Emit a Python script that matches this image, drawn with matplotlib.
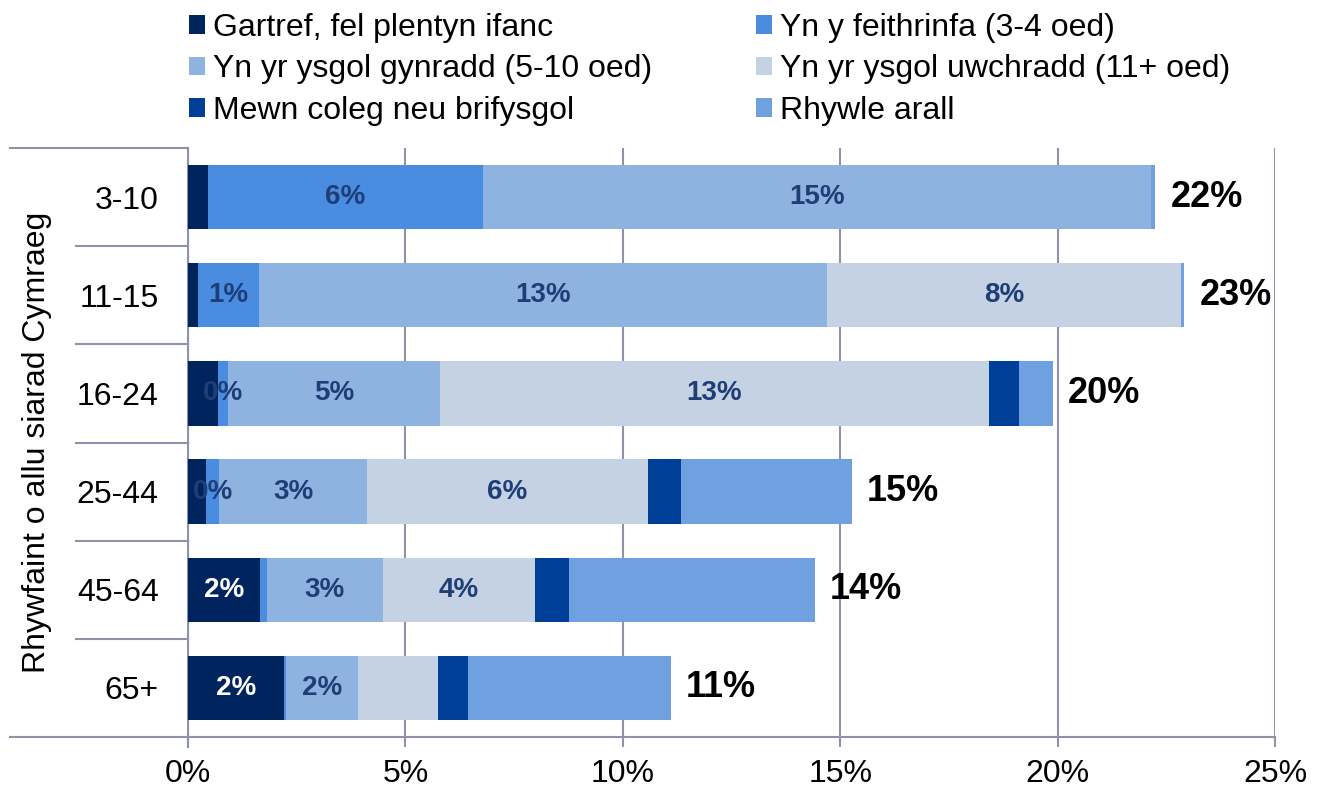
import matplotlib
matplotlib.use("Agg")
import matplotlib.pyplot as plt
from matplotlib.lines import Line2D
import numpy as np

plt.rcParams['font.family'] = ['Liberation Sans', 'DejaVu Sans']

categories = ["3-10", "11-15", "16-24", "25-44", "45-64", "65+"]
series_names = ["Gartref, fel plentyn ifanc", "Yn y feithrinfa (3-4 oed)",
                "Yn yr ysgol gynradd (5-10 oed)", "Yn yr ysgol uwchradd (11+ oed)",
                "Mewn coleg neu brifysgol", "Rhywle arall"]
gartref    = [0.46, 0.23, 0.68, 0.41, 1.66, 2.21]
feithrinfa = [6.32, 1.40, 0.24, 0.31, 0.15, 0.05]
gynradd    = [15.37, 13.07, 4.88, 3.40, 2.67, 1.64]
uwchradd   = [0.00, 8.14, 12.62, 6.46, 3.51, 1.86]
coleg      = [0.00, 0.00, 0.69, 0.76, 0.78, 0.67]
rhywle     = [0.10, 0.07, 0.78, 3.93, 5.64, 4.67]
# which segment labels are shown (per series, per category)
show_gartref    = [False, False, False, False, True, True]
show_feithrinfa = [True, True, True, True, False, False]
show_gynradd    = [True, True, True, True, True, True]
show_uwchradd   = [False, True, True, True, True, False]
show_coleg      = [False] * 6
show_rhywle     = [False] * 6
total_labels = ["22%", "23%", "20%", "15%", "14%", "11%"]
xticks = [0, 5, 10, 15, 20, 25]
xtick_labels = ["0%", "5%", "10%", "15%", "20%", "25%"]
ylabel = "Rhywfaint o allu siarad Cymraeg"

series = [gartref, feithrinfa, gynradd, uwchradd, coleg, rhywle]
shows = [show_gartref, show_feithrinfa, show_gynradd, show_uwchradd, show_coleg, show_rhywle]
colors = ['#00245E', '#4A8CDF', '#8FB3E0', '#C4D2E4', '#003F98', '#6FA0E0']
label_colors = ['white', '#1F3E78', '#1F3E78', '#1F3E78', 'white', '#1F3E78']
axis_color = '#8E92AA'
base_fs = 23

fig = plt.figure(figsize=(13.21, 7.87), dpi=100)
ax = fig.add_axes([188/1321, 50/787, (1275-188)/1321, (737-148)/787])

y = np.arange(len(categories))
left = np.zeros(len(categories))
handles = []
for vals, show, col, lc, name in zip(series, shows, colors, label_colors, series_names):
    vals = np.array(vals)
    bars = ax.barh(y, vals, left=left, height=0.655, color=col, label=name, zorder=3)
    handles.append(bars)
    for i, (v, s) in enumerate(zip(vals, show)):
        if s:
            ax.text(left[i] + v / 2, y[i], f"{round(v):.0f}%", ha='center', va='center',
                    fontsize=20, fontweight='bold', color=lc, zorder=4)
    left = left + vals

for i, t in enumerate(total_labels):
    ax.annotate(t, xy=(left[i], y[i]), xytext=(11, 0), textcoords='offset points',
                ha='left', va='center', fontsize=26, fontweight='bold', color='black')

ax.set_xlim(0, 25)
ax.set_ylim(len(categories) - 0.5, -0.5)
ax.set_xticks(xticks)
ax.set_xticklabels(xtick_labels, fontsize=base_fs)
ax.set_yticks(y)
ax.set_yticklabels(categories, fontsize=base_fs)
ax.tick_params(axis='y', length=0, pad=21)
ax.tick_params(axis='x', length=7, width=1.5, color=axis_color, pad=9)
ax.grid(axis='x', color=axis_color, linewidth=1.5, zorder=0)
ax.set_axisbelow(True)
for s in ['top', 'right']:
    ax.spines[s].set_visible(False)
for s in ['left', 'bottom']:
    ax.spines[s].set_color(axis_color)
    ax.spines[s].set_linewidth(1.5)
ax.spines['left'].set_bounds(len(categories) - 0.5 + 0.1, -0.5)

ax.set_ylabel(ylabel, fontsize=base_fs)
ax.yaxis.set_label_coords((52 - 188) / 1087, 0.50)

# category separator lines extending into label area
trans = ax.get_yaxis_transform()
x_outer = (10 - 188) / 1087
x_inner = (76 - 188) / 1087
for k in range(len(categories) + 1):
    yb = k - 0.5
    xs = x_outer if k in (0, len(categories)) else x_inner
    ax.add_line(Line2D([xs, 0], [yb, yb], transform=trans, color=axis_color,
                       linewidth=1.5, clip_on=False))

order = [0, 2, 4, 1, 3, 5]
fig.legend(handles=[handles[i] for i in order], labels=[series_names[i] for i in order],
           ncol=2, loc='upper left',
           bbox_to_anchor=(176/1321, 1.0), frameon=False, fontsize=base_fs,
           handlelength=0.5, handleheight=0.5, handletextpad=0.25,
           columnspacing=3.25, labelspacing=0.36, borderaxespad=0)

fig.savefig("out.png", dpi=100)
